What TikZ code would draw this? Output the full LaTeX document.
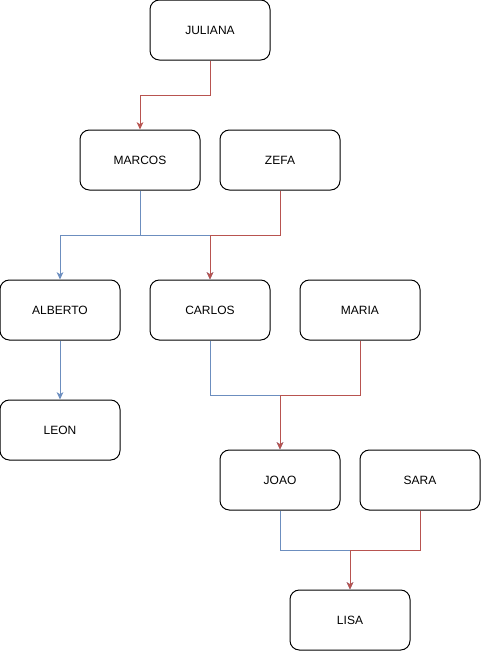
\documentclass[tikz,border=0pt]{standalone}
\usepackage{fontspec}
\setmainfont{Liberation Sans}
\usetikzlibrary{arrows.meta, positioning}

\definecolor{edgeblue}{HTML}{6C8EBF}
\definecolor{edgered}{HTML}{B85450}

\tikzset{
    person/.style={draw, black, line width=0.75pt, rounded corners=7pt, minimum width=90pt, minimum height=45pt, inner sep=0pt, font=\fontsize{9}{11}\selectfont},
    fatherline/.style={edgeblue, line width=0.75pt, -{Stealth[length=5.5pt, width=5pt, inset=1.5pt]}},
    motherline/.style={edgered, line width=0.75pt, -{Stealth[length=5.5pt, width=5pt, inset=1.5pt]}}
}

\begin{document}
\begin{tikzpicture}[x=0.75pt, y=-0.75pt]
    \useasboundingbox (0,0) rectangle (482,651);
    % people
    \node[person] (juliana) at (210,30) {JULIANA};
    \node[person] (marcos) at (140,160) {MARCOS};
    \node[person] (zefa) at (280,160) {ZEFA};
    \node[person] (alberto) at (60,310) {ALBERTO};
    \node[person] (carlos) at (210,310) {CARLOS};
    \node[person] (maria) at (360,310) {MARIA};
    \node[person] (leon) at (60,430) {LEON};
    \node[person] (joao) at (280,480) {JOAO};
    \node[person] (sara) at (420,480) {SARA};
    \node[person] (lisa) at (350,620) {LISA};
    % blue lines
    \draw[fatherline] (marcos.south) -- ++(0,45) -| (alberto.north);
    \draw[fatherline] (marcos.south) -- ++(0,45) -| (carlos.north);
    \draw[fatherline] (alberto.south) -- (leon.north);
    \draw[fatherline] (carlos.south) -- ++(0,55) -| (joao.north);
    \draw[fatherline] (joao.south) -- ++(0,40) -| (lisa.north);
    % red lines
    \draw[motherline] (juliana.south) -- ++(0,35) -| (marcos.north);
    \draw[motherline] (zefa.south) -- ++(0,45) -| (carlos.north);
    \draw[motherline] (maria.south) -- ++(0,55) -| (joao.north);
    \draw[motherline] (sara.south) -- ++(0,40) -| (lisa.north);
\end{tikzpicture}
\end{document}
